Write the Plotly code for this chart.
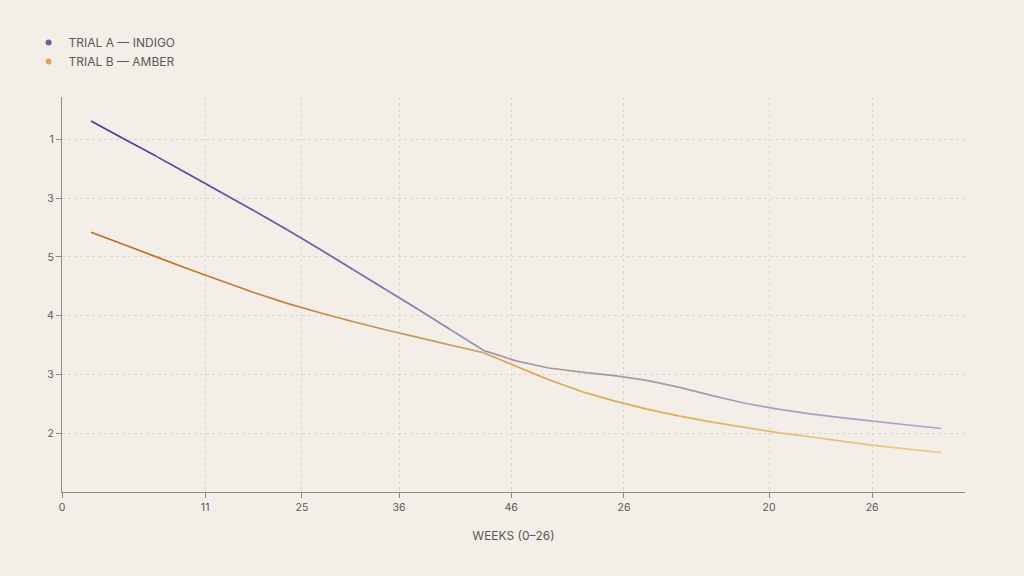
import plotly.graph_objects as go

# weekly readings, weeks 0..26
weeks = list(range(27))
trial_a = [6.31, 6.01, 5.71, 5.40, 5.09, 4.78, 4.46, 4.13, 3.79, 3.45, 3.11, 2.76, 2.41,
           2.23, 2.11, 2.04, 1.98, 1.90, 1.78, 1.64, 1.51, 1.41, 1.33, 1.26, 1.20, 1.14, 1.08]
trial_b = [4.42, 4.21, 4.00, 3.79, 3.59, 3.39, 3.21, 3.05, 2.90, 2.76, 2.63, 2.50, 2.37,
           2.14, 1.91, 1.71, 1.55, 1.41, 1.29, 1.19, 1.10, 1.01, 0.94, 0.86, 0.79, 0.73, 0.67]

x_tickvals = [-0.887, 3.49, 6.45, 9.42, 12.85, 16.30, 20.74, 23.89]
x_ticktext = ["0", "11", "25", "36", "46", "26", "20", "26"]
y_tickvals = [1, 2, 3, 4, 5, 6]
y_ticktext = ["2", "3", "4", "5", "3", "1"]

# colour stops along each line (fraction of length, colour)
stops_a = [(0.0, "#463a96"), (0.3, "#6f66ad"), (0.44, "#9a92b2"), (0.52, "#a8989c"),
           (0.68, "#a89aa4"), (0.8, "#a59ec8"), (1.0, "#a9a3d4")]
stops_b = [(0.0, "#b86a22"), (0.3, "#c98a45"), (0.44, "#cfa070"), (0.5, "#d9a04f"),
           (0.7, "#e2b060"), (1.0, "#eccb8c")]

BG = "#f3efe8"
TXT = "#5a5856"


def hex2rgb(h):
    h = h.lstrip("#")
    return [int(h[i:i + 2], 16) for i in (0, 2, 4)]


def pick(stops, t):
    for (t0, c0), (t1, c1) in zip(stops[:-1], stops[1:]):
        if t0 <= t <= t1:
            f = (t - t0) / (t1 - t0) if t1 > t0 else 0
            a, b = hex2rgb(c0), hex2rgb(c1)
            return "rgb(%d,%d,%d)" % tuple(round(a[k] + (b[k] - a[k]) * f) for k in range(3))
    return stops[-1][1]


fig = go.Figure()

# each line is drawn segment by segment so the colour can fade along it
for ys, stops in [(trial_b, stops_b), (trial_a, stops_a)]:
    n = len(weeks) - 1
    for i in range(n):
        fig.add_trace(go.Scatter(
            x=weeks[i:i + 2], y=ys[i:i + 2], mode="lines",
            line=dict(color=pick(stops, (i + 0.5) / n), width=1.7),
            showlegend=False, hoverinfo="skip"))

# legend entries
fig.add_trace(go.Scatter(x=[None], y=[None], mode="markers", name="TRIAL A — INDIGO",
                         marker=dict(color="#6b5fa8", size=6)))
fig.add_trace(go.Scatter(x=[None], y=[None], mode="markers", name="TRIAL B — AMBER",
                         marker=dict(color="#dba657", size=6)))

fig.update_layout(
    width=1024, height=576,
    paper_bgcolor=BG, plot_bgcolor=BG,
    margin=dict(l=62, r=59, t=97, b=84),
    font=dict(family="Inter, Liberation Sans, sans-serif", size=10.5, color=TXT),
    legend=dict(x=-0.037, y=1.175, xanchor="left", yanchor="top",
                font=dict(size=12, color=TXT), itemwidth=30,
                tracegroupgap=0, bgcolor="rgba(0,0,0,0)"),
)
fig.update_xaxes(
    range=[-0.887, 26.73], tickvals=x_tickvals, ticktext=x_ticktext,
    showgrid=True, gridcolor="#ddd7ce", griddash="dot", gridwidth=1,
    showline=True, linecolor="#8d8984", linewidth=1.2,
    ticks="outside", ticklen=5, tickcolor="#8d8984",
    zeroline=False,
    title=dict(text="WEEKS (0–26)", font=dict(size=12, color=TXT), standoff=18),
)
fig.update_yaxes(
    range=[0, 6.72], tickvals=y_tickvals, ticktext=y_ticktext,
    showgrid=True, gridcolor="#ddd7ce", griddash="dot", gridwidth=1,
    showline=True, linecolor="#8d8984", linewidth=1.2,
    ticks="outside", ticklen=5, tickcolor="#8d8984",
    zeroline=False,
)

fig.write_html("out.html", config={"displayModeBar": False},
               post_script="document.body.style.margin='0';")
